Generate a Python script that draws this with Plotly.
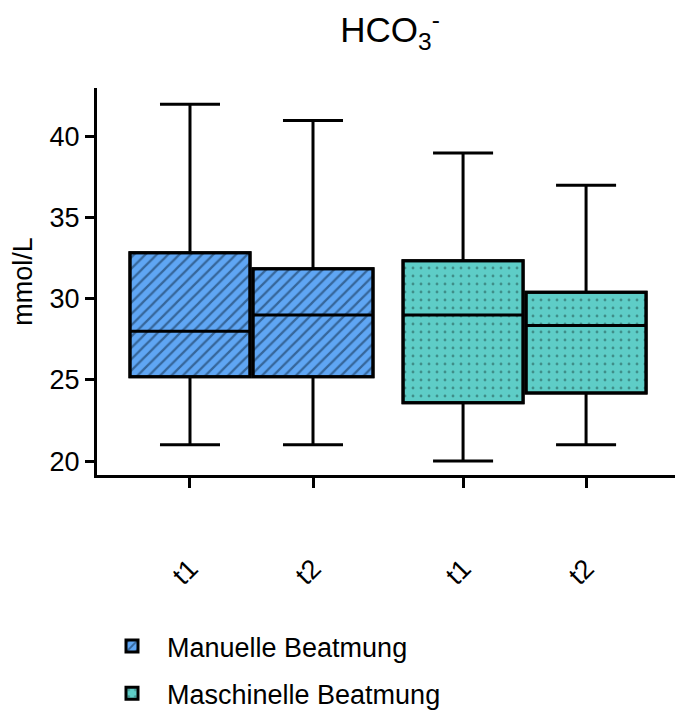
import plotly.graph_objects as go

# Data
tick_labels = ["t1", "t2", "t1", "t2"]
groups = ["Manuelle Beatmung", "Maschinelle Beatmung"]
manuell_min = [21, 21]
manuell_q1 = [25.2, 25.2]
manuell_median = [28.0, 29.0]
manuell_q3 = [32.85, 31.85]
manuell_max = [42, 41]
maschinell_min = [20, 21]
maschinell_q1 = [23.6, 24.2]
maschinell_median = [29.0, 28.35]
maschinell_q3 = [32.35, 30.4]
maschinell_max = [39, 37]

# Layout positions
pos_m = [0, 1]
pos_s = [2.22, 3.22]
bw = 0.976

blue = "#5fa6f4"
teal = "#5ecdc7"
FONT = "Liberation Sans"
FS = 27

fig = go.Figure()

def add_group(pos, q1, med, q3, lo, hi, color, shape, name, fg, size, solidity):
    fig.add_trace(go.Bar(
        x=pos, y=[b - a for a, b in zip(q1, q3)], base=q1, width=bw,
        name=name, showlegend=True, legendgroup=name,
        marker=dict(color=color, line=dict(color="black", width=3),
                    pattern=dict(shape=shape, fgcolor=fg, bgcolor=color,
                                 size=size, solidity=solidity)),
        hoverinfo="skip",
    ))
    fig.add_trace(go.Box(
        x=pos, q1=q1, median=med, q3=q3, lowerfence=lo, upperfence=hi,
        width=bw, whiskerwidth=0.5, fillcolor="rgba(0,0,0,0)",
        line=dict(color="black", width=3), showlegend=False,
        legendgroup=name, hoverinfo="skip",
    ))

add_group(pos_m, manuell_q1, manuell_median, manuell_q3, manuell_min, manuell_max,
          blue, "/", groups[0], "#0b2540", 8, 0.28)
add_group(pos_s, maschinell_q1, maschinell_median, maschinell_q3, maschinell_min, maschinell_max,
          teal, ".", groups[1], "#1f4f4c", 8, 0.1)

fig.update_layout(
    width=675, height=711,
    margin=dict(l=97, r=0, t=88, b=236, autoexpand=False),
    plot_bgcolor="white", paper_bgcolor="white",
    barmode="overlay", boxmode="overlay",
    font=dict(family=FONT, size=FS, color="black"),
    title=dict(text="HCO<sub>3</sub><sup>-</sup>", x=390 / 675, xanchor="center",
               y=1 - 30 / 711, yanchor="middle", font=dict(size=35, family=FONT)),
    legend=dict(x=0.0, xanchor="left", y=-243 / 387, yanchor="bottom",
                font=dict(size=FS, family=FONT), tracegroupgap=9,
                itemwidth=60, traceorder="grouped"),
    xaxis=dict(
        range=[-0.756, 3.943], tickvals=pos_m + pos_s, ticktext=tick_labels,
        showline=True, linecolor="black", linewidth=3, ticks="outside",
        ticklen=10, tickwidth=3, tickcolor="black", tickangle=-45,
        tickfont=dict(size=FS, family=FONT), ticklabelstandoff=54,
        showgrid=False, zeroline=False,
    ),
    yaxis=dict(
        range=[19.14, 43.0], tickvals=[20, 25, 30, 35, 40],
        showline=True, linecolor="black", linewidth=3, ticks="outside",
        ticklen=9, tickwidth=3, tickcolor="black",
        tickfont=dict(size=FS, family=FONT),
        title=dict(text="mmol/L", font=dict(size=FS, family=FONT), standoff=10),
        showgrid=False, zeroline=False,
    ),
)

fig.write_html("out.html")
